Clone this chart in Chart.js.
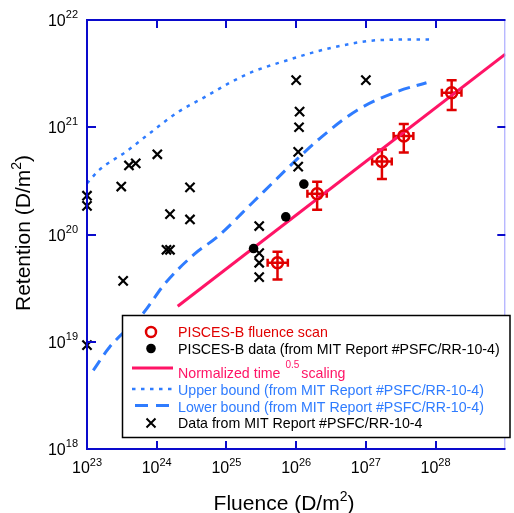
<!DOCTYPE html>
<html>
<head>
<meta charset="utf-8">
<script src="https://cdn.jsdelivr.net/npm/chart.js@4"></script>
<style>
body { margin: 0; background: #fff; }
canvas { display: block; }
</style>
</head>
<body>
<canvas id="chart" width="514" height="513"></canvas>
<script>
// decade ticks and their exponent labels
const xTicks = [1e23, 1e24, 1e25, 1e26, 1e27, 1e28];
const xTickLabels = ['23', '24', '25', '26', '27', '28'];
const yTicks = [1e18, 1e19, 1e20, 1e21, 1e22];
const yTickLabels = ['18', '19', '20', '21', '22'];

// PISCES-B fluence scan (with error bars)
const scanX = [5.4e25, 2.0e26, 1.7e27, 3.5e27, 1.7e28];
const scanY = [5.45e19, 2.4e20, 4.8e20, 8.3e20, 2.1e21];
const scanXLow = [3.9e25, 1.45e26, 1.23e27, 2.5e27, 1.23e28];
const scanXHigh = [7.6e25, 2.75e26, 2.35e27, 4.8e27, 2.35e28];
const scanYLow = [3.8e19, 1.7e20, 3.3e20, 5.8e20, 1.45e21];
const scanYHigh = [6.9e19, 3.1e20, 6.2e20, 1.07e21, 2.75e21];

// PISCES-B data (from MIT report)
const piscesX = [2.45e25, 7.1e25, 1.29e26];
const piscesY = [7.4e19, 1.46e20, 2.95e20];

// normalized time^0.5 scaling line
const scalingX = [2.0e24, 1e29];
const scalingY = [2.14e19, 4.8e21];

// upper / lower bound curves
const upperX = [1.0e23, 1.5e23, 3.6e23, 8.5e23, 2.0e24, 4.8e24, 1.12e25, 2.4e25, 6.5e25, 3.2e26, 1.6e27, 9.1e27];
const upperY = [3.0e20, 4.0e20, 5.9e20, 9.1e20, 1.38e21, 1.9e21, 2.6e21, 3.3e21, 4.1e21, 5.5e21, 6.5e21, 6.6e21];
const lowerX = [1.23e23, 2.1e23, 6.2e23, 1.32e24, 3.5e24, 7.4e24, 2.4e25, 3.4e25, 8.9e25, 2.3e26, 7.6e26, 2.8e27, 7.4e27];
const lowerY = [5.4e18, 8.9e18, 1.8e19, 3.5e19, 6.6e19, 9.5e19, 2.0e20, 2.5e20, 4.6e20, 8.1e20, 1.45e21, 2.15e21, 2.6e21];

// data from MIT report (crosses)
const mitX = [1.0e23, 1.0e23, 3.1e23, 4.0e23, 5.0e23, 1.02e24, 3.0e24, 1.55e24, 3.0e24, 1.38e24, 1.55e24, 3.3e23, 1.0e23,
              1.0e26, 1.0e27, 1.12e26, 1.1e26, 1.07e26, 1.07e26, 2.95e25, 2.95e25, 2.95e25, 2.95e25];
const mitY = [2.3e20, 1.85e20, 2.8e20, 4.4e20, 4.6e20, 5.6e20, 2.75e20, 1.55e20, 1.38e20, 7.2e19, 7.2e19, 3.7e19, 9.3e18,
              2.75e21, 2.75e21, 1.4e21, 1.0e21, 5.9e20, 4.3e20, 1.2e20, 6.7e19, 5.45e19, 4.0e19];

const RED = '#e00000';
const PINK = '#ff1466';
const BLUE = '#2f7cff';
const AXIS = '#0a0acc';
const FONT = "'Liberation Sans', Arial, sans-serif";

function pts(xs, ys) {
    return xs.map((x, i) => ({ x: x, y: ys[i] }));
}

// draw text pieces in a row, some raised as superscripts
function drawParts(ctx, parts, x, y, align) {
    let w = 0;
    parts.forEach(p => { ctx.font = p.font; w += ctx.measureText(p.t).width + (p.gap || 0); });
    let cx = align === 'center' ? x - w / 2 : (align === 'right' ? x - w : x);
    ctx.textAlign = 'left';
    ctx.textBaseline = 'alphabetic';
    parts.forEach(p => {
        ctx.font = p.font;
        ctx.fillStyle = p.color || ctx.fillStyle;
        ctx.fillText(p.t, cx, y - (p.dy || 0));
        cx += ctx.measureText(p.t).width + (p.gap || 0);
    });
}

const whiteBg = {
    id: 'whiteBg',
    beforeDraw(chart) {
        const ctx = chart.ctx;
        ctx.save();
        ctx.fillStyle = '#fff';
        ctx.fillRect(0, 0, chart.width, chart.height);
        ctx.restore();
    }
};

const frame = {
    id: 'frame',
    afterDatasetsDraw(chart) {
        const ctx = chart.ctx;
        const a = chart.chartArea;
        const xs = chart.scales.x, ys = chart.scales.y;
        ctx.save();
        // right border is lighter
        ctx.strokeStyle = '#9a9aff';
        ctx.lineWidth = 1;
        ctx.beginPath();
        ctx.moveTo(a.right - 0.5, a.top);
        ctx.lineTo(a.right - 0.5, a.bottom);
        ctx.stroke();

        ctx.strokeStyle = AXIS;
        ctx.lineWidth = 2;
        ctx.beginPath();
        ctx.moveTo(a.right, a.top);
        ctx.lineTo(a.left, a.top);
        ctx.lineTo(a.left, a.bottom);
        ctx.lineTo(a.right, a.bottom);
        ctx.stroke();

        // inward ticks
        ctx.beginPath();
        xTicks.forEach(v => {
            const px = Math.round(xs.getPixelForValue(v));
            ctx.moveTo(px, a.bottom); ctx.lineTo(px, a.bottom - 8);
            ctx.moveTo(px, a.top); ctx.lineTo(px, a.top + 8);
        });
        yTicks.forEach(v => {
            const py = Math.round(ys.getPixelForValue(v));
            ctx.moveTo(a.left, py); ctx.lineTo(a.left + 9, py);
            ctx.moveTo(a.right, py); ctx.lineTo(a.right - 8, py);
        });
        ctx.stroke();

        // tick labels
        ctx.fillStyle = '#000';
        xTicks.forEach((v, i) => {
            const px = xs.getPixelForValue(v);
            drawParts(ctx, [
                { t: '10', font: '16px ' + FONT },
                { t: xTickLabels[i], font: '11px ' + FONT, dy: 7 }
            ], px, a.bottom + 24, 'center');
        });
        yTicks.forEach((v, i) => {
            const py = ys.getPixelForValue(v);
            drawParts(ctx, [
                { t: '10', font: '16px ' + FONT },
                { t: yTickLabels[i], font: '11px ' + FONT, dy: 8 }
            ], 78, py + 6, 'right');
        });

        // axis titles
        drawParts(ctx, [
            { t: 'Fluence (D/m', font: '21px ' + FONT },
            { t: '2', font: '14px ' + FONT, dy: 9 },
            { t: ')', font: '21px ' + FONT }
        ], 284, 510, 'center');
        ctx.save();
        ctx.translate(30, 233);
        ctx.rotate(-Math.PI / 2);
        drawParts(ctx, [
            { t: 'Retention (D/m', font: '21px ' + FONT },
            { t: '2', font: '14px ' + FONT, dy: 9 },
            { t: ')', font: '21px ' + FONT }
        ], 0, 0, 'center');
        ctx.restore();
        ctx.restore();
    }
};

const errorBars = {
    id: 'errorBars',
    beforeDatasetsDraw(chart) {
        const ctx = chart.ctx;
        const xs = chart.scales.x, ys = chart.scales.y;
        ctx.save();
        ctx.strokeStyle = RED;
        ctx.lineWidth = 2.5;
        scanX.forEach((x, i) => {
            const px = xs.getPixelForValue(x);
            const py = ys.getPixelForValue(scanY[i]);
            const x0 = xs.getPixelForValue(scanXLow[i]);
            const x1 = xs.getPixelForValue(scanXHigh[i]);
            const y0 = ys.getPixelForValue(scanYLow[i]);
            const y1 = ys.getPixelForValue(scanYHigh[i]);
            ctx.beginPath();
            ctx.moveTo(px, y0); ctx.lineTo(px, y1);
            ctx.moveTo(px - 5, y0); ctx.lineTo(px + 5, y0);
            ctx.moveTo(px - 5, y1); ctx.lineTo(px + 5, y1);
            ctx.moveTo(x0, py); ctx.lineTo(x1, py);
            ctx.moveTo(x0, py - 4); ctx.lineTo(x0, py + 4);
            ctx.moveTo(x1, py - 4); ctx.lineTo(x1, py + 4);
            ctx.stroke();
        });
        ctx.restore();
    }
};

const legendBox = {
    id: 'legendBox',
    afterDraw(chart) {
        const ctx = chart.ctx;
        const L = 122.5, T = 315.5, R = 510, B = 437.5;
        ctx.save();
        ctx.fillStyle = '#fff';
        ctx.fillRect(L, T, R - L, B - T);
        ctx.strokeStyle = '#000';
        ctx.lineWidth = 1.5;
        ctx.strokeRect(L, T, R - L, B - T);

        const sx = 151, tx = 178, l0 = 132, l1 = 173;
        const f = '14.2px ' + FONT;
        // row 1: open red circle
        ctx.strokeStyle = RED; ctx.lineWidth = 2.5;
        ctx.beginPath(); ctx.arc(sx, 332, 5, 0, Math.PI * 2); ctx.stroke();
        ctx.fillStyle = RED;
        drawParts(ctx, [{ t: 'PISCES-B fluence scan', font: f }], tx, 337, 'left');
        // row 2: black dot
        ctx.fillStyle = '#000';
        ctx.beginPath(); ctx.arc(sx, 348.5, 4.8, 0, Math.PI * 2); ctx.fill();
        drawParts(ctx, [{ t: 'PISCES-B data (from MIT Report #PSFC/RR-10-4)', font: f }], tx, 353.5, 'left');
        // row 3: pink line
        ctx.strokeStyle = PINK; ctx.lineWidth = 3;
        ctx.beginPath(); ctx.moveTo(l0, 368); ctx.lineTo(l1, 368); ctx.stroke();
        ctx.fillStyle = PINK;
        drawParts(ctx, [
            { t: 'Normalized time ', font: f, gap: 1 },
            { t: '0.5', font: '10px ' + FONT, dy: 10, gap: 2 },
            { t: 'scaling', font: f }
        ], tx, 378, 'left');
        // row 4: dotted
        ctx.strokeStyle = BLUE; ctx.lineWidth = 2.5; ctx.setLineDash([3.5, 5.5]);
        ctx.beginPath(); ctx.moveTo(l0, 389); ctx.lineTo(l1, 389); ctx.stroke();
        ctx.fillStyle = BLUE;
        drawParts(ctx, [{ t: 'Upper bound (from MIT Report #PSFC/RR-10-4)', font: f }], tx, 395, 'left');
        // row 5: dashed
        ctx.lineWidth = 3; ctx.setLineDash([13, 8]); ctx.lineDashOffset = -3;
        ctx.beginPath(); ctx.moveTo(l0, 405.5); ctx.lineTo(l1, 405.5); ctx.stroke();
        ctx.setLineDash([]);
        drawParts(ctx, [{ t: 'Lower bound (from MIT Report #PSFC/RR-10-4)', font: f }], tx, 411.5, 'left');
        // row 6: cross
        ctx.strokeStyle = '#000'; ctx.lineWidth = 2;
        ctx.beginPath();
        ctx.moveTo(sx - 4.5, 418.5); ctx.lineTo(sx + 4.5, 427.5);
        ctx.moveTo(sx + 4.5, 418.5); ctx.lineTo(sx - 4.5, 427.5);
        ctx.stroke();
        ctx.fillStyle = '#000';
        drawParts(ctx, [{ t: 'Data from MIT Report #PSFC/RR-10-4', font: f }], tx, 428, 'left');
        ctx.restore();
    }
};

new Chart(document.getElementById('chart'), {
    type: 'scatter',
    data: {
        datasets: [
            {
                label: 'PISCES-B fluence scan',
                data: pts(scanX, scanY),
                pointStyle: 'circle',
                pointRadius: 5.5,
                pointBorderWidth: 2.5,
                borderColor: RED,
                backgroundColor: 'rgba(0,0,0,0)',
                order: 0,
                clip: false
            },
            {
                label: 'PISCES-B data (from MIT Report #PSFC/RR-10-4)',
                data: pts(piscesX, piscesY),
                pointRadius: 4.8,
                pointBorderWidth: 0,
                backgroundColor: '#000',
                borderColor: '#000',
                order: 1,
                clip: false
            },
            {
                label: 'Data from MIT Report #PSFC/RR-10-4',
                data: pts(mitX, mitY),
                pointStyle: 'crossRot',
                pointRadius: 6.5,
                pointBorderWidth: 2.2,
                borderColor: '#000',
                order: 2,
                clip: false
            },
            {
                label: 'Normalized time 0.5 scaling',
                type: 'line',
                data: pts(scalingX, scalingY),
                borderColor: PINK,
                borderWidth: 3,
                pointRadius: 0,
                order: 3
            },
            {
                label: 'Upper bound',
                type: 'line',
                data: pts(upperX, upperY),
                borderColor: BLUE,
                borderWidth: 2.5,
                borderDash: [3.5, 5.5],
                cubicInterpolationMode: 'monotone',
                pointRadius: 0,
                order: 4
            },
            {
                label: 'Lower bound',
                type: 'line',
                data: pts(lowerX, lowerY),
                borderColor: BLUE,
                borderWidth: 3,
                borderDash: [12, 7],
                cubicInterpolationMode: 'monotone',
                pointRadius: 0,
                order: 5
            }
        ]
    },
    options: {
        responsive: false,
        animation: false,
        devicePixelRatio: 1,
        layout: { padding: { left: 87, top: 20, right: 1, bottom: 64 } },
        plugins: { legend: { display: false }, tooltip: { enabled: false } },
        scales: {
            x: { type: 'logarithmic', min: 1e23, max: 1e29, display: false },
            y: { type: 'logarithmic', min: 1e18, max: 1e22, display: false }
        }
    },
    plugins: [whiteBg, errorBars, frame, legendBox]
});
</script>
</body>
</html>
